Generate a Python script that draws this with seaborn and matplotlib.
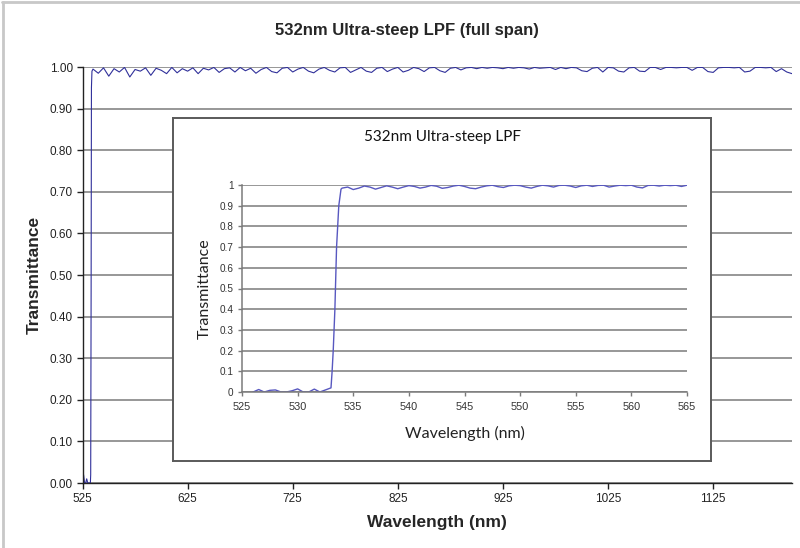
import numpy as np
import pandas as pd
import matplotlib
matplotlib.use('Agg')
import matplotlib.pyplot as plt
from matplotlib.lines import Line2D
import seaborn as sns

# ------------------------------------------------------------
# data
# ------------------------------------------------------------
# full span: cut-on edge (nm / transmittance)
main_edge_wl = [525, 526, 527, 528, 529, 530, 531, 532, 532.5, 532.8, 533.0, 533.2, 533.5, 534]
main_edge_tr = [0.0, 0.02, 0.0, 0.0, 0.01, 0.0, 0.0, 0.0, 0.0, 0.02, 0.2, 0.46, 0.95, 0.99]

# full span: pass band ripple, every 5 nm from 535 to 1200
main_pass_wl = np.arange(535, 1201, 5)
main_pass_tr = [
    0.995, 0.985, 0.998, 0.978, 0.996, 0.988, 0.999, 0.976, 0.994, 0.990,
    0.998, 0.980, 0.997, 0.992, 0.984, 0.999, 0.986, 0.996, 0.990, 0.998,
    0.984, 0.997, 0.993, 0.999, 0.987, 0.996, 0.998, 0.988, 0.999, 0.991,
    0.997, 0.985, 0.994, 0.999, 0.989, 0.986, 0.997, 0.999, 0.988, 0.995,
    0.999, 0.990, 0.986, 0.995, 0.999, 0.992, 0.988, 0.998, 0.999, 0.987,
    0.993, 0.999, 0.990, 0.987, 0.997, 0.999, 0.989, 0.995, 0.999, 0.988,
    0.992, 0.999, 0.996, 0.989, 0.998, 0.999, 0.991, 0.987, 0.997, 0.999,
    0.993, 0.998, 0.999, 0.996, 0.999, 0.997, 0.999, 0.998, 0.996, 0.999,
    0.997, 0.999, 0.998, 0.995, 0.999, 0.997, 0.998, 0.999, 0.994, 0.999,
    0.996, 0.999, 0.998, 0.991, 0.989, 0.997, 0.999, 0.988, 0.999, 0.998,
    0.990, 0.988, 0.998, 0.999, 0.990, 0.989, 0.999, 0.999, 0.994, 0.999,
    0.999, 0.998, 0.999, 0.999, 0.992, 0.999, 0.999, 0.989, 0.987, 0.998,
    0.999, 0.999, 0.998, 0.999, 0.988, 0.990, 0.999, 0.999, 0.998, 0.999,
    0.989, 0.996, 0.988, 0.984,
]

# zoomed view: blocking band, every 0.5 nm from 526 to 532.5
zoom_block_wl = np.arange(526, 532.6, 0.5)
zoom_block_tr = [0.0, 0.012, 0.0, 0.008, 0.01, 0.0, 0.0, 0.006, 0.015, 0.0,
                 0.0, 0.014, 0.0, 0.01]

# zoomed view: the edge
zoom_edge_wl = [533.0, 533.1, 533.2, 533.35, 533.5, 533.7, 533.9, 534.0]
zoom_edge_tr = [0.02, 0.1, 0.2, 0.4, 0.7, 0.9, 0.98, 0.985]

# zoomed view: pass band, every 0.5 nm from 534.5 to 565
zoom_pass_wl = np.arange(534.5, 565.1, 0.5)
zoom_pass_tr = [
    0.990, 0.978, 0.985, 0.995, 0.990, 0.980, 0.988, 0.996, 0.990, 0.982,
    0.990, 0.997, 0.993, 0.985, 0.990, 0.998, 0.994, 0.984, 0.988, 0.995,
    0.999, 0.993, 0.985, 0.982, 0.990, 0.996, 0.999, 0.992, 0.988, 0.996,
    0.999, 0.997, 0.990, 0.985, 0.993, 0.999, 0.996, 0.990, 0.998, 0.999,
    0.995, 0.988, 0.996, 0.999, 0.993, 0.998, 0.999, 0.990, 0.995, 0.999,
    0.997, 0.999, 0.990, 0.986, 0.998, 0.999, 0.995, 0.999, 0.997, 0.999,
    0.993, 0.999,
]

main_xticks = [525, 625, 725, 825, 925, 1025, 1125]
main_yticks = [0.0, 0.1, 0.2, 0.3, 0.4, 0.5, 0.6, 0.7, 0.8, 0.9, 1.0]
zoom_xticks = [525, 530, 535, 540, 545, 550, 555, 560, 565]
zoom_yticks = [0, 0.1, 0.2, 0.3, 0.4, 0.5, 0.6, 0.7, 0.8, 0.9, 1]

main_df = pd.DataFrame({
    'wl': np.concatenate([main_edge_wl, main_pass_wl]),
    'tr': np.concatenate([main_edge_tr, main_pass_tr]),
})
zoom_df = pd.DataFrame({
    'wl': np.concatenate([zoom_block_wl, zoom_edge_wl, zoom_pass_wl]),
    'tr': np.concatenate([zoom_block_tr, zoom_edge_tr, zoom_pass_tr]),
})

# ------------------------------------------------------------
# style
# ------------------------------------------------------------
sns.set_theme(style='white')
plt.rcParams['font.family'] = ['Liberation Sans', 'DejaVu Sans']

W, H = 800, 548
fig = plt.figure(figsize=(W / 100, H / 100), dpi=100)
fig.patch.set_facecolor('white')


def px_box(x0, y0, x1, y1):
    """pixel box (top-left origin) -> figure fraction rect"""
    return [x0 / W, 1 - y1 / H, (x1 - x0) / W, (y1 - y0) / H]


grid_col = '#7a7a7a'

# outer chart border (top and left only are visible)
fig.add_artist(Line2D([0.0025, 1.0], [1 - 2 / H, 1 - 2 / H], transform=fig.transFigure,
                      color='#c8c8c8', lw=2))
fig.add_artist(Line2D([2.5 / W, 2.5 / W], [0, 1 - 2 / H], transform=fig.transFigure,
                      color='#c8c8c8', lw=2))

# ------------------------------------------------------------
# main (full span) chart
# ------------------------------------------------------------
ax = fig.add_axes(px_box(82.5, 67, 792, 483))
sns.lineplot(data=main_df, x='wl', y='tr', ax=ax, color='#30309a', lw=0.8,
             estimator=None, sort=False)
ax.set_xlim(525, 1200)
ax.set_ylim(0, 1)
ax.set_xticks(main_xticks)
ax.set_xticklabels([str(v) for v in main_xticks])
ax.set_yticks(main_yticks)
ax.set_yticklabels([f'{v:.2f}' for v in main_yticks])
ax.yaxis.grid(True, color=grid_col, lw=1.1)
ax.xaxis.grid(False)
for s in ['top', 'right']:
    ax.spines[s].set_visible(False)
for s in ['left', 'bottom']:
    ax.spines[s].set_color('#222222')
    ax.spines[s].set_linewidth(1.0)
ax.tick_params(axis='both', direction='out', length=4, width=1, color='#222222',
               labelsize=8.5, labelcolor='#222222', pad=3, left=True, bottom=True)
ax.set_xlabel('Wavelength (nm)', fontsize=12.5, fontweight='bold')
ax.set_ylabel('Transmittance', fontsize=12.5, fontweight='bold')
ax.xaxis.set_label_coords(0.5, (483 - 522) / 416)
ax.xaxis.label.set_va('center')
ax.yaxis.set_label_coords((34 - 82.5) / 709.5, 0.5)
ax.yaxis.label.set_va('center')

fig.text(407 / W, 1 - 30 / H, '532nm Ultra-steep LPF (full span)', ha='center',
         va='center', fontsize=12, fontweight='bold')

# ------------------------------------------------------------
# inset box
# ------------------------------------------------------------
box = fig.add_axes(px_box(173, 118, 711, 461))
box.set_xticks([])
box.set_yticks([])
box.set_facecolor('white')
for s in box.spines.values():
    s.set_visible(True)
    s.set_color('#5a5a5a')
    s.set_linewidth(1.4)

# ------------------------------------------------------------
# inset (zoomed) chart
# ------------------------------------------------------------
inset_font = ['Lato', 'DejaVu Sans']
ax2 = fig.add_axes(px_box(242, 185, 687, 392))
ax2.set_facecolor('none')
sns.lineplot(data=zoom_df, x='wl', y='tr', ax=ax2, color='#5858c0', lw=1.0,
             estimator=None, sort=False)
ax2.set_xlim(525, 565)
ax2.set_ylim(0, 1)
ax2.set_xticks(zoom_xticks)
ax2.set_xticklabels([str(v) for v in zoom_xticks])
ax2.set_yticks(zoom_yticks)
ax2.set_yticklabels([f'{v:g}' for v in zoom_yticks])
ax2.yaxis.grid(True, color=grid_col, lw=1.1)
ax2.xaxis.grid(False)
for s in ['top', 'right']:
    ax2.spines[s].set_visible(False)
for s in ['left', 'bottom']:
    ax2.spines[s].set_color('#7a7a7a')
    ax2.spines[s].set_linewidth(1.1)
ax2.tick_params(axis='both', direction='out', length=3, width=1, color='#7a7a7a',
                labelcolor='#333333', pad=3, left=True, bottom=True)
ax2.tick_params(axis='x', labelsize=7.8, pad=4)
ax2.tick_params(axis='y', labelsize=7.2)
ax2.set_xlabel('Wavelength (nm)', fontsize=11.5, family=inset_font, color='#222222')
ax2.set_ylabel('Transmittance', fontsize=11.5, family=inset_font, color='#222222')
ax2.xaxis.set_label_coords((465 - 242) / 445, (392 - 433) / 207)
ax2.xaxis.label.set_va('center')
ax2.yaxis.set_label_coords((205 - 242) / 445, 0.5)
ax2.yaxis.label.set_va('center')

fig.text(442 / W, 1 - 137 / H, '532nm Ultra-steep LPF', ha='center', va='center',
         fontsize=11, family=inset_font, color='#111111')

fig.savefig('out.png', dpi=100, facecolor='white')
